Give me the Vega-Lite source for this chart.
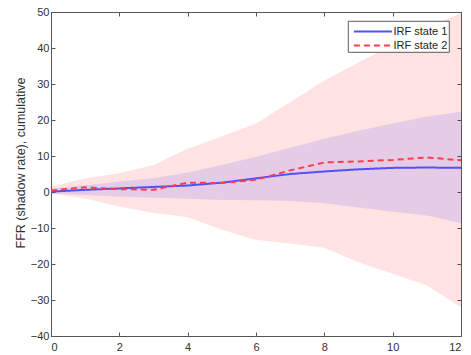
{
  "$schema": "https://vega.github.io/schema/vega-lite/v6.json",
  "width": 410,
  "height": 324,
  "autosize": {"type": "none"},
  "padding": {"left": 51, "top": 12, "right": 10, "bottom": 19},
  "config": {
    "view": {"stroke": "#555555", "strokeWidth": 1},
    "font": "Liberation Sans",
    "axis": {
      "grid": false, "domain": false, "tickColor": "#555555", "tickSize": -4, "tickWidth": 1,
      "labelFontSize": 11, "labelColor": "#333333", "labelFont": "Liberation Sans",
      "titleFont": "Liberation Sans", "titleFontWeight": "normal", "titleFontSize": 12.5, "titleColor": "#333333"
    },
    "legend": {
      "orient": "none", "legendX": 297, "legendY": 9, "fillColor": "white", "strokeColor": "#333333",
      "strokeWidth": 0.8, "padding": 1.5, "symbolType": "M-1,0H4", "symbolSize": 231, "symbolStrokeWidth": 2,
      "symbolOffset": 3, "labelOffset": 23, "labelFontSize": 11, "labelFont": "Liberation Sans",
      "labelColor": "#222222", "rowPadding": 0, "cornerRadius": 0
    }
  },
  "datasets": {
    "bands": [
      {"h": 0, "lo2": -0.4, "hi2": 1.5, "lo1": -0.4, "hi1": 1.0},
      {"h": 1, "lo2": -1.8, "hi2": 3.8, "lo1": -0.8, "hi1": 1.9},
      {"h": 2, "lo2": -4.0, "hi2": 5.2, "lo1": -1.3, "hi1": 2.9},
      {"h": 3, "lo2": -5.8, "hi2": 7.5, "lo1": -1.6, "hi1": 3.8},
      {"h": 4, "lo2": -7.0, "hi2": 12.0, "lo1": -1.9, "hi1": 5.4},
      {"h": 5, "lo2": -10.5, "hi2": 15.5, "lo1": -2.2, "hi1": 7.5},
      {"h": 6, "lo2": -13.3, "hi2": 19.0, "lo1": -2.3, "hi1": 9.8},
      {"h": 7, "lo2": -14.3, "hi2": 25.0, "lo1": -2.5, "hi1": 12.3},
      {"h": 8, "lo2": -15.5, "hi2": 31.0, "lo1": -3.1, "hi1": 14.8},
      {"h": 9, "lo2": -19.5, "hi2": 36.0, "lo1": -4.3, "hi1": 17.0},
      {"h": 10, "lo2": -22.7, "hi2": 41.0, "lo1": -5.5, "hi1": 19.0},
      {"h": 11, "lo2": -26.0, "hi2": 45.5, "lo1": -6.5, "hi1": 21.0},
      {"h": 12, "lo2": -32.0, "hi2": 49.7, "lo1": -8.7, "hi1": 22.3}
    ],
    "irf": [
      {"h": 0, "series": "IRF state 1", "v": 0.1},
      {"h": 1, "series": "IRF state 1", "v": 0.6},
      {"h": 2, "series": "IRF state 1", "v": 1.0},
      {"h": 3, "series": "IRF state 1", "v": 1.4},
      {"h": 4, "series": "IRF state 1", "v": 1.8},
      {"h": 5, "series": "IRF state 1", "v": 2.6},
      {"h": 6, "series": "IRF state 1", "v": 3.8},
      {"h": 7, "series": "IRF state 1", "v": 5.0},
      {"h": 8, "series": "IRF state 1", "v": 5.7},
      {"h": 9, "series": "IRF state 1", "v": 6.3},
      {"h": 10, "series": "IRF state 1", "v": 6.7},
      {"h": 11, "series": "IRF state 1", "v": 6.8},
      {"h": 12, "series": "IRF state 1", "v": 6.7},
      {"h": 0, "series": "IRF state 2", "v": 0.4},
      {"h": 1, "series": "IRF state 2", "v": 1.3},
      {"h": 2, "series": "IRF state 2", "v": 0.8},
      {"h": 3, "series": "IRF state 2", "v": 0.6},
      {"h": 4, "series": "IRF state 2", "v": 2.6},
      {"h": 5, "series": "IRF state 2", "v": 2.5},
      {"h": 6, "series": "IRF state 2", "v": 3.4},
      {"h": 7, "series": "IRF state 2", "v": 6.0},
      {"h": 8, "series": "IRF state 2", "v": 8.2},
      {"h": 9, "series": "IRF state 2", "v": 8.5},
      {"h": 10, "series": "IRF state 2", "v": 8.9},
      {"h": 11, "series": "IRF state 2", "v": 9.6},
      {"h": 12, "series": "IRF state 2", "v": 8.8}
    ]
  },
  "layer": [
    {
      "data": {"name": "bands"},
      "mark": {"type": "area", "color": "#ff0000", "opacity": 0.11, "clip": true},
      "encoding": {
        "x": {"field": "h", "type": "quantitative", "scale": {"domain": [0, 12], "nice": false},
              "axis": {"orient": "bottom", "values": [0, 2, 4, 6, 8, 10, 12], "title": null, "labelPadding": 9}},
        "y": {"field": "lo2", "type": "quantitative", "scale": {"domain": [-40, 50], "nice": false},
              "axis": {"orient": "left", "values": [-40, -30, -20, -10, 0, 10, 20, 30, 40, 50],
                       "title": "FFR (shadow rate), cumulative", "labelPadding": 6,
                       "titleX": -31, "titleY": 150.5, "titleBaseline": "middle", "titleAlign": "center", "titleAngle": -90}},
        "y2": {"field": "hi2"}
      }
    },
    {
      "data": {"name": "bands"},
      "mark": {"type": "area", "color": "#0000ff", "opacity": 0.1, "clip": true},
      "encoding": {
        "x": {"field": "h", "type": "quantitative", "axis": null},
        "y": {"field": "lo1", "type": "quantitative", "axis": null},
        "y2": {"field": "hi1"}
      }
    },
    {
      "mark": {"type": "rule", "color": "#808080", "opacity": 0.55, "strokeWidth": 1.5},
      "encoding": {"y": {"datum": 0, "type": "quantitative", "axis": null}}
    },
    {
      "data": {"name": "irf"},
      "mark": {"type": "line", "strokeWidth": 2, "clip": true},
      "encoding": {
        "x": {"field": "h", "type": "quantitative",
              "axis": {"orient": "top", "values": [0, 2, 4, 6, 8, 10, 12], "labels": false, "title": null}},
        "y": {"field": "v", "type": "quantitative",
              "axis": {"orient": "right", "values": [-40, -30, -20, -10, 0, 10, 20, 30, 40, 50], "labels": false, "title": null}},
        "color": {"field": "series", "type": "nominal", "title": null,
                  "scale": {"domain": ["IRF state 1", "IRF state 2"], "range": ["#5050ff", "#ff3b4e"]}},
        "strokeDash": {"field": "series", "type": "nominal", "title": null,
                       "scale": {"domain": ["IRF state 1", "IRF state 2"], "range": [[1, 0], [6, 4]]}}
      }
    }
  ],
  "resolve": {"axis": {"x": "independent", "y": "independent"}}
}
